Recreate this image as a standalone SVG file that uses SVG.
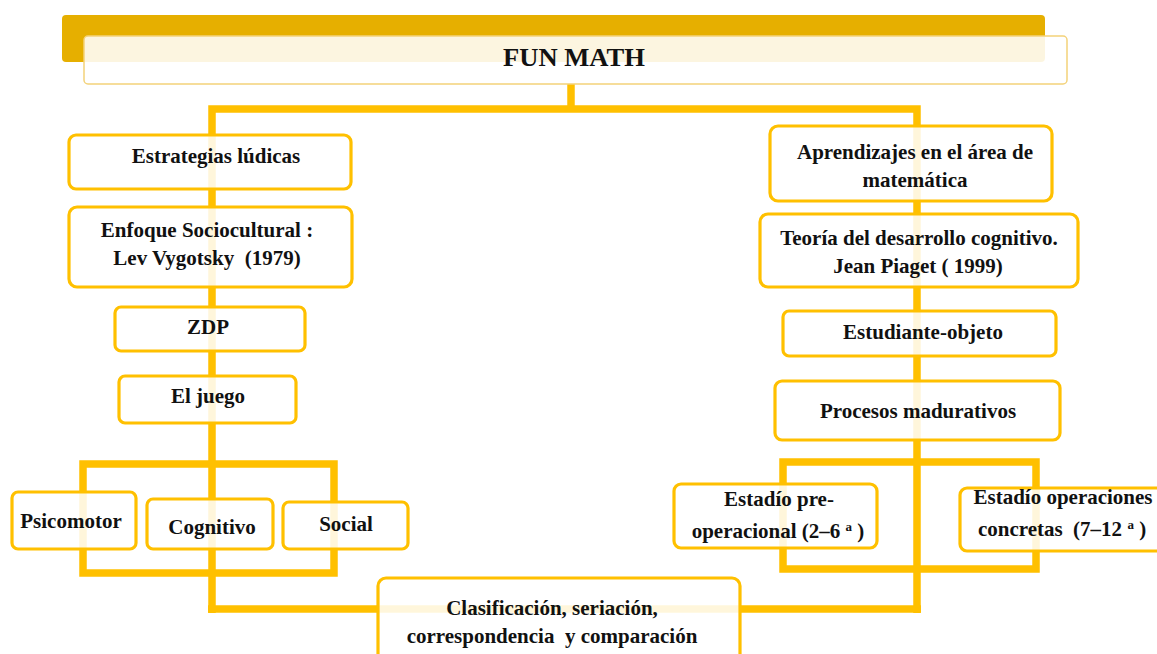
<svg xmlns="http://www.w3.org/2000/svg" width="1157" height="654" viewBox="0 0 1157 654">
<style>
.ln{fill:none;stroke:#FFC000;stroke-width:7.5;stroke-linejoin:miter}
.bx{fill:#FFFFFF;fill-opacity:0.86;stroke:#FFC000;stroke-width:3.2}
.t{font-family:"Liberation Serif",serif;font-size:21px;font-weight:bold;fill:#111;text-anchor:middle;white-space:pre}
.sup{font-size:13px}
</style>
<rect x="0" y="0" width="1157" height="654" fill="#FFFFFF"/>
<g id="connectors">
<line class="ln" x1="571" y1="84" x2="571" y2="109"/>
<polyline class="ln" points="212,613 212,109 917,109 917,613"/>
<line class="ln" x1="208" y1="609" x2="921" y2="609"/>
<rect class="ln" x="83" y="464" width="251" height="109"/>
<rect class="ln" x="783" y="462" width="253" height="107"/>
</g>
<g id="title">
<rect x="62" y="15" width="983" height="47" rx="4" fill="#E6AF00"/>
<rect x="84" y="36" width="983" height="48" rx="4" fill="#FFFFFF" fill-opacity="0.88" stroke="#F3D27A" stroke-width="1.5"/>
<text x="574" y="66" textLength="142" lengthAdjust="spacingAndGlyphs" style="font-family:'Liberation Serif',serif;font-size:26px;font-weight:bold;fill:#111;text-anchor:middle">FUN MATH</text>
</g>
<g id="estrategias"><rect class="bx" x="69" y="135" width="282" height="54" rx="7"/><text class="t" x="216" y="163">Estrategias lúdicas</text></g>
<g id="enfoque"><rect class="bx" x="69" y="207" width="283" height="80" rx="8"/><text class="t" x="207" y="237">Enfoque Sociocultural :</text><text class="t" x="207" y="265">Lev Vygotsky  (1979)</text></g>
<g id="zdp"><rect class="bx" x="115" y="307" width="190" height="44" rx="6"/><text class="t" x="208" y="334">ZDP</text></g>
<g id="juego"><rect class="bx" x="119" y="376" width="177" height="47" rx="6"/><text class="t" x="208" y="403">El juego</text></g>
<g id="psicomotor"><rect class="bx" x="12" y="492" width="124" height="57" rx="6"/><text class="t" x="71" y="528">Psicomotor</text></g>
<g id="cognitivo"><rect class="bx" x="147" y="499" width="126" height="50" rx="6"/><text class="t" x="212" y="534">Cognitivo</text></g>
<g id="social"><rect class="bx" x="283" y="502" width="125" height="47" rx="6"/><text class="t" x="346" y="531">Social</text></g>
<g id="clasificacion"><rect class="bx" x="378" y="578" width="362" height="90" rx="8"/><text class="t" x="552" y="615">Clasificación, seriación,</text><text class="t" x="552" y="643">correspondencia  y comparación</text></g>
<g id="aprendizajes"><rect class="bx" x="770" y="126" width="282" height="75" rx="8"/><text class="t" x="915" y="159">Aprendizajes en el área de</text><text class="t" x="915" y="187">matemática</text></g>
<g id="teoria"><rect class="bx" x="760" y="214" width="318" height="73" rx="8"/><text class="t" x="919" y="245">Teoría del desarrollo cognitivo.</text><text class="t" x="918" y="273">Jean Piaget ( 1999)</text></g>
<g id="estudiante"><rect class="bx" x="783" y="311" width="273" height="45" rx="6"/><text class="t" x="923" y="339">Estudiante-objeto</text></g>
<g id="procesos"><rect class="bx" x="775" y="381" width="285" height="59" rx="7"/><text class="t" x="918" y="418">Procesos madurativos</text></g>
<g id="preoperacional"><rect class="bx" x="674" y="484" width="203" height="64" rx="7"/><text class="t" x="779" y="506">Estadío pre-</text><text class="t" x="778" y="538">operacional (2–6 <tspan class="sup" dy="-7">a</tspan><tspan dy="7"> )</tspan></text></g>
<g id="concretas"><rect class="bx" x="960" y="488" width="220" height="63" rx="7"/><text class="t" x="1063" y="504">Estadío operaciones</text><text class="t" x="1062" y="536">concretas  (7–12 <tspan class="sup" dy="-7">a</tspan><tspan dy="7"> )</tspan></text></g>
</svg>
